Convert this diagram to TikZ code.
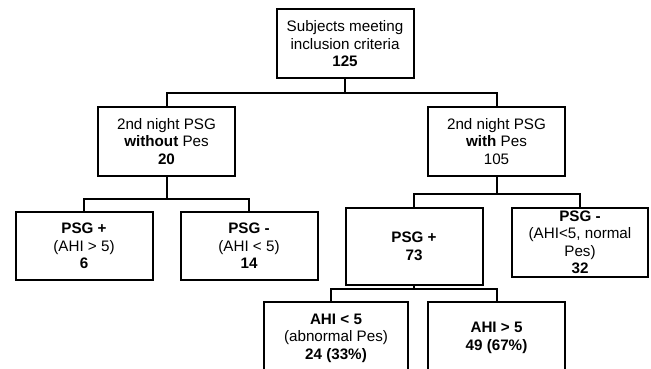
\documentclass[tikz,border=0pt]{standalone}
\usepackage{fontspec}
\setmainfont{Liberation Sans}
\usetikzlibrary{arrows}

\begin{document}
\begin{tikzpicture}[x=1pt,y=-1pt,line width=2pt,
        main node/.style={rectangle,draw,align=center,inner xsep=2pt,inner ysep=0pt,
          minimum width=137pt,minimum height=69pt,font=\fontsize{15.2}{17.5}\selectfont}]
        \clip (0,0) rectangle (651,369);
        \node[main node] (1) at (345,44) {Subjects meeting\\inclusion criteria\\\textbf{125}};
        \node[main node] (2) at (166.5,141.5) {2nd night PSG\\\textbf{without} Pes\\\textbf{20}};
        \node[main node] (3) at (496.5,141.5) {2nd night PSG\\\textbf{with} Pes\\105};
        \node[main node, minimum height=68pt] (4) at (84,246) {\textbf{PSG +}\\(AHI > 5)\\\textbf{6}};
        \node[main node, minimum height=68pt] (5) at (249,246) {\textbf{PSG -}\\(AHI < 5)\\\textbf{14}};
        \node[main node, minimum height=77pt] (6) at (414,246.5) {\textbf{PSG +}\\\textbf{73}};
        \node[main node, minimum width=136pt] (7) at (580,242.5) {\textbf{PSG -}\\(AHI<5, normal\\Pes)\\\textbf{32}};
        \node[main node, minimum width=144pt, minimum height=72pt] (8) at (336,338) {\textbf{AHI < 5}\\(abnormal Pes)\\\textbf{24 (33\%)}};
        \node[main node, minimum height=72pt] (9) at (496.5,338) {\textbf{AHI > 5}\\\textbf{49 (67\%)}};
        \draw (1.south) -- ++(0,14) -| (2.north);
        \draw (1.south) -- ++(0,14) -| (3.north);
        \draw (2.south) -- ++(0,22) -| (4.north);
        \draw (2.south) -- ++(0,22) -| (5.north);
        \draw (3.south) -- ++(0,17) -| (6.north);
        \draw (3.south) -- ++(0,17) -| (7.north);
        \draw (6.south) -- ++(0,3) -| ([xshift=-5pt]8.north);
        \draw (6.south) -- ++(0,3) -| (9.north);
\end{tikzpicture}
\end{document}
